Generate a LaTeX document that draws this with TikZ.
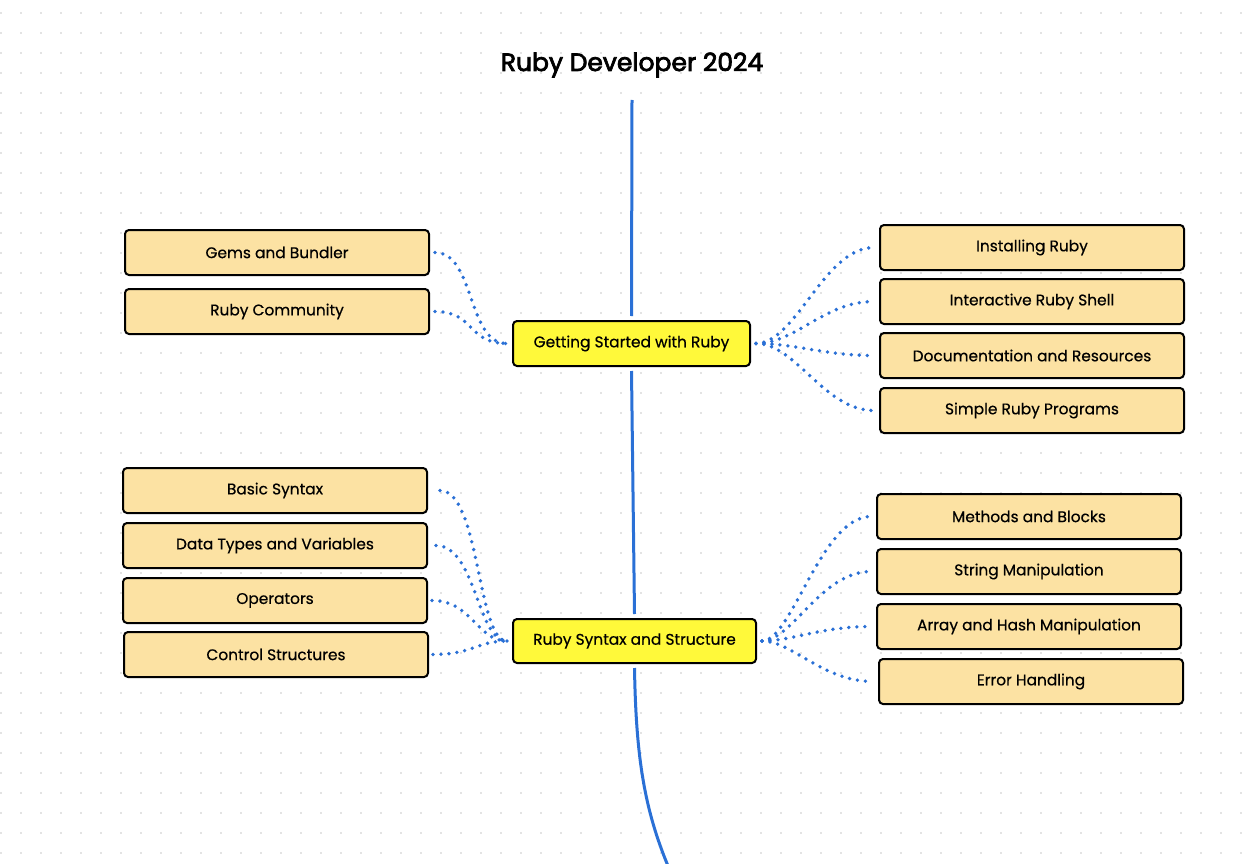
\documentclass[tikz,border=0pt]{standalone}
\usepackage{fontspec}
\setmainfont{Poppins}
\newfontfamily\boxfont[FakeBold=0.5]{Poppins}
\newfontfamily\titlefont[FakeBold=3]{Poppins}
\definecolor{boxfill}{RGB}{252,226,163}
\definecolor{centerfill}{RGB}{255,249,58}
\definecolor{linkblue}{RGB}{42,112,214}
\definecolor{gridgray}{RGB}{200,200,200}
\begin{document}
\begin{tikzpicture}[x=1pt,y=-1pt,
  leaf/.style={draw=black,line width=2pt,rounded corners=4pt,fill=boxfill,minimum width=304pt,minimum height=45pt,font=\boxfont\fontsize{15.4}{17}\selectfont,inner sep=0pt},
  hub/.style={draw=black,line width=2pt,rounded corners=4pt,fill=centerfill,minimum height=45pt,font=\boxfont\fontsize{15.4}{17}\selectfont,inner sep=0pt},
  link/.style={draw=linkblue,line width=3.8pt,line cap=round,dash pattern=on 0pt off 8pt},
  spine/.style={draw=linkblue,line width=3pt}]
\useasboundingbox (0,0) rectangle (1248,864);
\fill[white] (0,0) rectangle (1248,864);
\foreach \i in {0,...,62}{\foreach \j in {0,...,42}{\fill[gridgray] (\i*20+1,\j*20+13) circle (0.8pt);}}
% title
\node[font=\titlefont\fontsize{25}{30}\selectfont] (title) at (632,65) {Ruby Developer 2024};
% hubs
\node[hub,minimum width=237pt] (gs) at (631.5,343.5) {Getting Started with Ruby};
\node[hub,minimum width=243pt,minimum height=44pt] (rs) at (634.5,641) {Ruby Syntax and Structure};
% leaves
\node[leaf] (gems) at (277,252.5) {Gems and Bundler};
\node[leaf] (comm) at (277,311.5) {Ruby Community};
\node[leaf] (inst) at (1032,247.5) {Installing Ruby};
\node[leaf] (irb) at (1032,301.5) {Interactive Ruby Shell};
\node[leaf] (doc) at (1032,355.5) {Documentation and Resources};
\node[leaf] (simple) at (1032,410.5) {Simple Ruby Programs};
\node[leaf] (basic) at (275,490.5) {Basic Syntax};
\node[leaf] (dtypes) at (275,545.5) {Data Types and Variables};
\node[leaf] (ops) at (275,600.5) {Operators};
\node[leaf] (ctrl) at (276,654.5) {Control Structures};
\node[leaf] (meth) at (1029,516.5) {Methods and Blocks};
\node[leaf] (str) at (1029,571.5) {String Manipulation};
\node[leaf] (arr) at (1029,626.5) {Array and Hash Manipulation};
\node[leaf] (err) at (1031,681.5) {Error Handling};
% spine
\coordinate (top) at (632,100);
\coordinate (bottom) at (668,866);
\draw[spine] (top) -- ([yshift=4pt]gs.north);
\draw[spine] ([yshift=-4pt]gs.south) -- ([yshift=4pt]rs.north);
\draw[spine] ([yshift=-4pt]rs.south) .. controls (636,760) and (645,810) .. (bottom);
% connectors top
\draw[link] ([xshift=5pt]gems.east) .. controls +(40,0) and +(-40,0) .. ([xshift=-5pt]gs.west);
\draw[link] ([xshift=5pt]comm.east) .. controls +(40,0) and +(-40,0) .. ([xshift=-5pt]gs.west);
\draw[link] ([xshift=5pt]gs.east) .. controls +(40,0) and +(-50,0) .. ([xshift=-5pt]inst.west);
\draw[link] ([xshift=5pt]gs.east) .. controls +(40,0) and +(-50,0) .. ([xshift=-5pt]irb.west);
\draw[link] ([xshift=5pt]gs.east) .. controls +(40,0) and +(-50,0) .. ([xshift=-5pt]doc.west);
\draw[link] ([xshift=5pt]gs.east) .. controls +(40,0) and +(-50,0) .. ([xshift=-5pt]simple.west);
% connectors bottom
\draw[link] ([xshift=12pt]basic.east) .. controls +(40,0) and +(-30,0) .. ([xshift=-5pt]rs.west);
\draw[link] ([xshift=8pt]dtypes.east) .. controls +(40,0) and +(-30,0) .. ([xshift=-5pt]rs.west);
\draw[link] ([xshift=4pt]ops.east) .. controls +(40,0) and +(-30,0) .. ([xshift=-5pt]rs.west);
\draw[link] ([xshift=4pt]ctrl.east) .. controls +(40,0) and +(-30,0) .. ([xshift=-5pt]rs.west);
\draw[link] ([xshift=5pt]rs.east) .. controls +(30,0) and +(-50,0) .. ([xshift=-5pt]meth.west);
\draw[link] ([xshift=5pt]rs.east) .. controls +(30,0) and +(-50,0) .. ([xshift=-5pt]str.west);
\draw[link] ([xshift=5pt]rs.east) .. controls +(30,0) and +(-50,0) .. ([xshift=-5pt]arr.west);
\draw[link] ([xshift=5pt]rs.east) .. controls +(30,0) and +(-50,0) .. ([xshift=-5pt]err.west);
\end{tikzpicture}
\end{document}
